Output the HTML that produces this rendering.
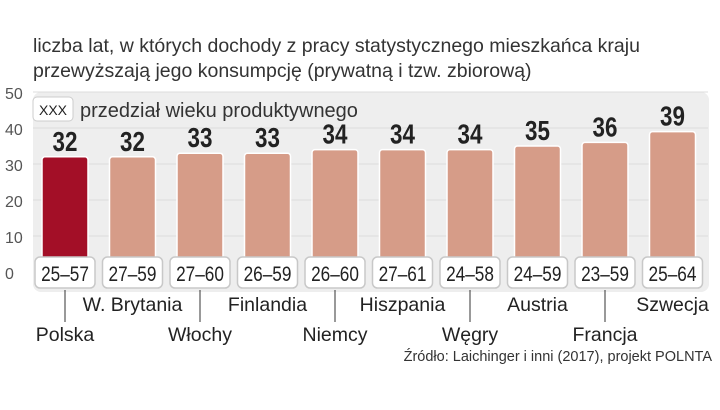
<!DOCTYPE html>
<html><head><meta charset="utf-8"><style>
body{margin:0;width:720px;height:405px;background:#fff;overflow:hidden;font-family:"Liberation Sans",sans-serif;}
svg text{font-family:"Liberation Sans",sans-serif;}
</style></head><body>
<svg width="720" height="405">
<text x="33" y="52" font-size="19.5" fill="#333">liczba lat, w których dochody z pracy statystycznego mieszkańca kraju</text>
<text x="33" y="77" font-size="19.5" fill="#333">przewyższają jego konsumpcję (prywatną i tzw. zbiorową)</text>
<rect x="33" y="92" width="676" height="200" rx="8" fill="#eeeeee"/>
<g id="grid"></g>
<g id="bars"></g>
<rect x="33" y="97" width="40" height="24" rx="4" fill="#fff" stroke="#ccc"/>
<text x="53" y="115" font-size="14" text-anchor="middle" fill="#222">XXX</text>
<text x="80" y="117" font-size="20" fill="#333">przedział wieku produktywnego</text>
<text x="712" y="361" font-size="14.5" text-anchor="end" fill="#333">Źródło: Laichinger i inni (2017), projekt POLNTA</text>
</svg>
<script>
const countries=["Polska","W. Brytania","Włochy","Finlandia","Niemcy","Hiszpania","Węgry","Austria","Francja","Szwecja"];
const values=[32,32,33,33,34,34,34,35,36,39];
const ranges=["25–57","27–59","27–60","26–59","26–60","27–61","24–58","24–59","23–59","25–64"];
const ticks=[0,10,20,30,40,50];
const NS="http://www.w3.org/2000/svg";
const y=v=>272-v*3.6;
const cx=i=>65+i*67.5;
function mk(tag,a,p,t){const e=document.createElementNS(NS,tag);for(const k in a)e.setAttribute(k,a[k]);if(t!==undefined)e.textContent=t;p.appendChild(e);return e;}
const g=document.getElementById('grid'),b=document.getElementById('bars');
ticks.forEach(t=>{
 if(t>0){const l=mk('line',{x1:33,x2:708,y1:y(t),y2:y(t),stroke:'#dcdcdc'},g);
 
 }
 const tx=mk('text',{x:5,y:y(t)+7,'font-size':16,fill:'#555'},g,String(t));
 
 
});
values.forEach((v,i)=>{
 const c=cx(i);
 const r=mk('rect',{x:c-23,y:y(v),width:46,height:272-y(v),rx:3,fill:i==0?'#a30f27':'#d69c88',stroke:'#fff','stroke-width':1.5},b);
 
 
 const vt=mk('text',{x:c,y:y(v)-6,'font-size':28,'font-weight':'bold','text-anchor':'middle',fill:'#222',transform:`translate(${c},0) scale(0.8,1) translate(${-c},0)`},b,String(v));
 
 
 const bx=mk('rect',{x:c-30,y:257,width:60,height:31,rx:5,fill:'#fff',stroke:'#c8c8c8','stroke-width':1.5},b);
 
 
 const rt=mk('text',{x:c,y:281,'font-size':21,'text-anchor':'middle',fill:'#222',transform:`translate(${c},0) scale(0.82,1) translate(${-c},0)`},b,ranges[i]);
 
 
 if(i%2==0){
  const tl=mk('line',{x1:c,x2:c,y1:290,y2:322,stroke:'#333'},b);
  
  
 }
 const ct=mk('text',{x:c,y:i%2==0?341:311,'font-size':19.5,'text-anchor':'middle',fill:'#222'},b,countries[i]);
 
 
});
</script>
</body></html>
